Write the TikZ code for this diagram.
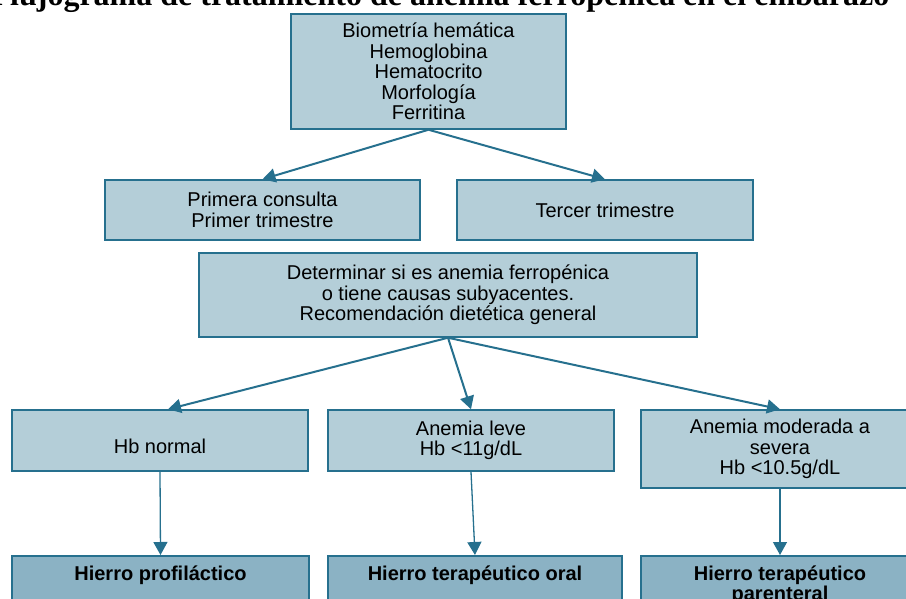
\documentclass[tikz,border=0pt]{standalone}
\usepackage{fontspec}
\setmainfont{Liberation Sans}
\newfontfamily\titlefont{Liberation Serif}
\usetikzlibrary{arrows.meta}
\definecolor{boxfill}{RGB}{180,206,216}
\definecolor{boxdark}{RGB}{139,178,196}
\definecolor{boxline}{RGB}{38,112,142}

\begin{document}
\begin{tikzpicture}[x=1pt,y=-1pt,
  box/.style={draw=boxline,line width=1.5pt,fill=boxfill,align=center,inner sep=0pt,font=\fontsize{20}{20.5}\selectfont},
  dosebox/.style={box,fill=boxdark,anchor=north,inner ysep=5pt,text height=20pt,text depth=45pt,font=\fontsize{20}{19.5}\selectfont\bfseries},
  flow/.style={draw=boxline,line width=2pt,-{Triangle[length=13pt,width=14pt]}}]
\useasboundingbox (0,0) rectangle (906,599);
\clip (0,0) rectangle (906,599);
\node[anchor=base,font=\titlefont\fontsize{32}{34}\selectfont\bfseries] (titulo) at (440,6) {Flujograma de tratamiento de anemia ferropénica en el embarazo};

\node[box,minimum width=275pt,minimum height=115pt] (bh) at (428.5,71.5) {Biometría hemática\\Hemoglobina\\Hematocrito\\Morfología\\Ferritina};
\node[box,minimum width=315pt,minimum height=60pt] (prim) at (262.5,210) {Primera consulta\\Primer trimestre};
\node[box,minimum width=296pt,minimum height=60pt] (terc) at (605,210) {Tercer trimestre};
\node[box,minimum width=498pt,minimum height=84pt] (det) at (448,295) {Determinar si es anemia ferropénica\\o tiene causas subyacentes.\\Recomendación dietética general};
\node[box,minimum width=296pt,minimum height=61pt,text height=30pt,text depth=4pt] (hbn) at (160,440.5) {Hb normal};
\node[box,minimum width=286pt,minimum height=61pt] (leve) at (471,440.5) {Anemia leve\\Hb <11g/dL};
\node[box,minimum width=278pt,minimum height=78pt] (mod) at (780,449) {Anemia moderada a\\severa\\Hb <10.5g/dL};
\node[dosebox,minimum width=297pt] (prof) at (160.5,555) {Hierro profiláctico};
\node[dosebox,minimum width=294pt] (oral) at (475,555) {Hierro terapéutico oral};
\node[dosebox,minimum width=278pt,text height=39.5pt,text depth=25pt] (par) at (780,555) {Hierro terapéutico\\parenteral};

\path
    (bh.south) edge [flow] (prim.north)
               edge [flow] (terc.north);
\path
    (det.south) edge [flow] ([xshift=8pt]hbn.north)
                edge [flow] (leve.north)
                edge [flow] (mod.north);
\path
    (hbn.south) edge [flow,line width=1.3pt] (prof.north)
    (leve.south) edge [flow,line width=1.3pt] (oral.north)
    (mod.south) edge [flow,line width=1.3pt] (par.north);
\end{tikzpicture}
\end{document}
